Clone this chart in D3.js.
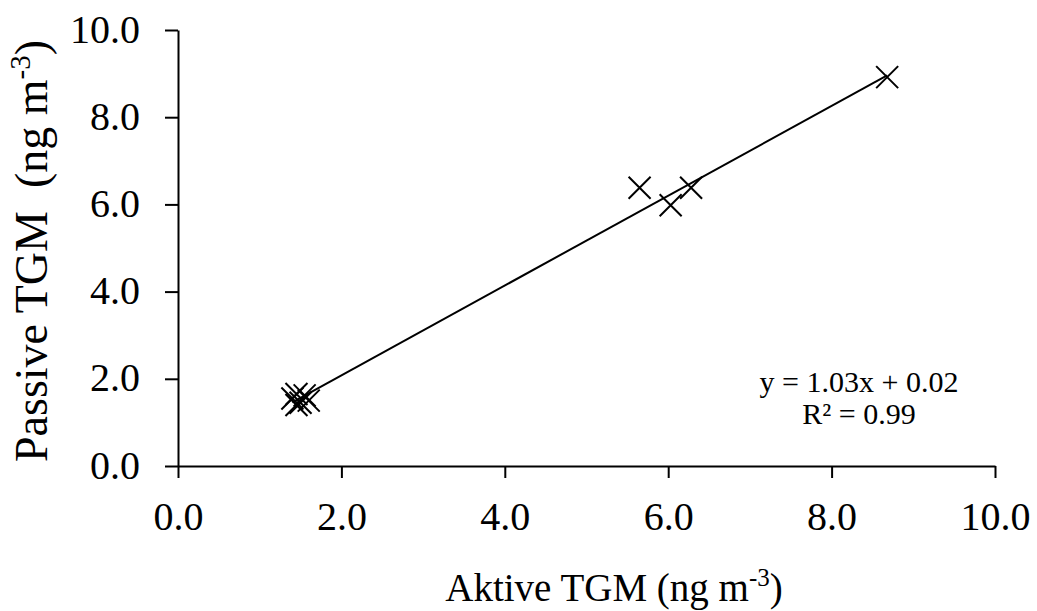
<!DOCTYPE html>
<html>
<head>
<meta charset="utf-8">
<script src="https://cdn.jsdelivr.net/npm/d3@7"></script>
<style>
  body { margin: 0; background: #fff; }
  text { font-family: "Liberation Serif", "Times New Roman", serif; fill: #000; }
</style>
</head>
<body>
<script>
// data
var aktive  = [1.40, 1.45, 1.50, 1.55, 1.60, 1.45, 5.65, 6.03, 6.28, 8.68];
var passive = [1.55, 1.65, 1.45, 1.62, 1.50, 1.40, 6.38, 5.98, 6.38, 8.92];
var tickValues = [0, 2, 4, 6, 8, 10];
var slope = 1.03, intercept = 0.02, r2 = 0.99;

var width = 1037, height = 611;
var margin = { left: 178, right: 42, top: 30, bottom: 145 };

var svg = d3.select("body").append("svg")
    .attr("width", width)
    .attr("height", height);

var x = d3.scaleLinear().domain([0, 10]).range([margin.left, width - margin.right]);
var y = d3.scaleLinear().domain([0, 10]).range([height - margin.bottom, margin.top]);

// axes
var xAxis = svg.append("g")
    .attr("transform", "translate(0," + y(0) + ")")
    .call(d3.axisBottom(x).tickValues(tickValues).tickSize(12).tickSizeOuter(0).tickFormat(d3.format(".1f")));
var yAxis = svg.append("g")
    .attr("transform", "translate(" + x(0) + ",0)")
    .call(d3.axisLeft(y).tickValues(tickValues).tickSize(13).tickSizeOuter(0).tickFormat(d3.format(".1f")));

[xAxis, yAxis].forEach(function (a) {
    a.select(".domain").attr("stroke", "#000").attr("stroke-width", 2);
    a.selectAll(".tick line").attr("stroke", "#000").attr("stroke-width", 2);
    a.selectAll(".tick text").style("font-size", "40px").style("font-family", "Liberation Serif");
});
xAxis.selectAll(".tick text").attr("y", 64).attr("dy", 0);
yAxis.selectAll(".tick text").attr("x", -38).attr("dy", "0.3em").style("font-size", "40px");

// trend line
var xmin = d3.min(aktive), xmax = d3.max(aktive);
svg.append("line")
    .attr("x1", x(xmin)).attr("y1", y(slope * xmin + intercept))
    .attr("x2", x(xmax)).attr("y2", y(slope * xmax + intercept))
    .attr("stroke", "#000").attr("stroke-width", 2);

// x markers
var s = 11;
var pts = svg.append("g");
aktive.forEach(function (a, i) {
    var cx = x(a), cy = y(passive[i]);
    pts.append("path")
        .attr("d", "M" + (cx - s) + "," + (cy - s) + "L" + (cx + s) + "," + (cy + s) +
                   "M" + (cx - s) + "," + (cy + s) + "L" + (cx + s) + "," + (cy - s))
        .attr("stroke", "#000").attr("stroke-width", 2).attr("fill", "none");
});

// equation
svg.append("text").attr("x", 859).attr("y", 392)
    .attr("text-anchor", "middle").style("font-size", "30px")
    .text("y = " + slope.toFixed(2) + "x + " + intercept.toFixed(2));
svg.append("text").attr("x", 859).attr("y", 424)
    .attr("text-anchor", "middle").style("font-size", "30px")
    .text("R² = " + r2.toFixed(2));

// axis titles
var xt = svg.append("text").attr("x", 614).attr("y", 601)
    .attr("text-anchor", "middle").style("font-size", "39px");
xt.append("tspan").text("Aktive TGM (ng m");
xt.append("tspan").attr("dy", -15).style("font-size", "25px").text("-3");
xt.append("tspan").attr("dy", 15).text(")");

var yt = svg.append("text")
    .attr("transform", "translate(47,251) rotate(-90)")
    .attr("xml:space", "preserve")
    .attr("text-anchor", "middle").style("font-size", "46px");
yt.append("tspan").text("Passive TGM  (ng m");
yt.append("tspan").attr("dy", -17).style("font-size", "29px").text("-3");
yt.append("tspan").attr("dy", 17).text(")");
</script>
</body>
</html>
